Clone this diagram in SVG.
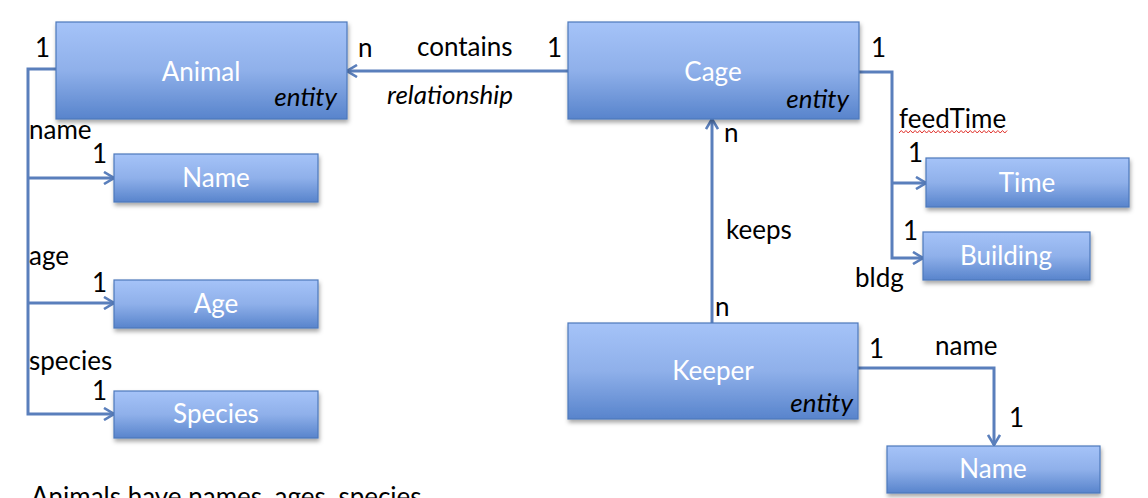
<svg xmlns="http://www.w3.org/2000/svg" width="1148" height="498" viewBox="0 0 1148 498">
<defs>
<linearGradient id="g" x1="0" y1="0" x2="0" y2="1">
<stop offset="0" stop-color="#a5c3f8"/>
<stop offset="0.5" stop-color="#8fb0ea"/>
<stop offset="1" stop-color="#5884cc"/>
</linearGradient>
<filter id="sh" x="-10%" y="-10%" width="120%" height="130%">
<feDropShadow dx="1" dy="3" stdDeviation="2" flood-color="#000" flood-opacity="0.35"/>
</filter>
<marker id="arr" viewBox="0 0 12 14" refX="11" refY="7" markerWidth="12" markerHeight="14" orient="auto" markerUnits="userSpaceOnUse">
<path d="M1,1 L11,7 L1,13" fill="none" stroke="#5a7fbc" stroke-width="2.6"/>
</marker>
</defs>
<style>
.box{fill:url(#g);stroke:#4d79bb;stroke-width:1.2;filter:url(#sh)}
.bt{font-family:Lato,"Open Sans",sans-serif;font-size:26px;fill:#fff;text-anchor:middle}
.et{font-family:Lato,"Open Sans",sans-serif;font-size:26px;font-style:italic;fill:#000;text-anchor:end}
.lb{font-family:Lato,"Open Sans",sans-serif;font-size:26px;fill:#000}
.cn{fill:none;stroke:#5a7fbc;stroke-width:3}
</style>
<rect width="1148" height="498" fill="#fff"/>
<g id="connectors">
<path class="cn" d="M56,69 H28 V414 H114" marker-end="url(#arr)"/>
<path class="cn" d="M28,178 H114" marker-end="url(#arr)"/>
<path class="cn" d="M28,303 H114" marker-end="url(#arr)"/>
<path class="cn" d="M568,71 H347" marker-end="url(#arr)"/>
<path class="cn" d="M859,72 H892 V258 H923" marker-end="url(#arr)"/>
<path class="cn" d="M892,183 H926" marker-end="url(#arr)"/>
<path class="cn" d="M712,323 V119" marker-end="url(#arr)"/>
<path class="cn" d="M858,368 H994 V445" marker-end="url(#arr)"/>
<path d="M899,133 l2.3,-2.5 l2.3,2.5 l2.3,-2.5 l2.3,2.5 l2.3,-2.5 l2.3,2.5 l2.3,-2.5 l2.3,2.5 l2.3,-2.5 l2.3,2.5 l2.3,-2.5 l2.3,2.5 l2.3,-2.5 l2.3,2.5 l2.3,-2.5 l2.3,2.5 l2.3,-2.5 l2.3,2.5 l2.3,-2.5 l2.3,2.5 l2.3,-2.5 l2.3,2.5 l2.3,-2.5 l2.3,2.5 l2.3,-2.5 l2.3,2.5 l2.3,-2.5 l2.3,2.5 l2.3,-2.5 l2.3,2.5 l2.3,-2.5 l2.3,2.5 l2.3,-2.5 l2.3,2.5 l2.3,-2.5 l2.3,2.5 l2.3,-2.5 l2.3,2.5 l2.3,-2.5 l2.3,2.5 l2.3,-2.5 l2.3,2.5 l2.3,-2.5 l2.3,2.5 l2.3,-2.5 l2.3,2.5 l2.3,-2.5" fill="none" stroke="#e0302a" stroke-width="1"/>
</g>
<g id="animal"><rect class="box" x="56" y="22" width="291" height="97"/><text class="bt" x="201" y="81">Animal</text><text class="et" x="337" y="106">entity</text></g>
<g id="cage"><rect class="box" x="568" y="22" width="291" height="97"/><text class="bt" x="713" y="81">Cage</text><text class="et" x="849" y="108">entity</text></g>
<g id="keeper"><rect class="box" x="568" y="323" width="290" height="96"/><text class="bt" x="713" y="380">Keeper</text><text class="et" x="853" y="412">entity</text></g>
<g id="name1"><rect class="box" x="114" y="154" width="204" height="48"/><text class="bt" x="216" y="187">Name</text></g>
<g id="age"><rect class="box" x="114" y="280" width="204" height="48"/><text class="bt" x="216" y="313">Age</text></g>
<g id="species"><rect class="box" x="114" y="391" width="204" height="47"/><text class="bt" x="216" y="423">Species</text></g>
<g id="time"><rect class="box" x="926" y="158" width="203" height="49"/><text class="bt" x="1027" y="192">Time</text></g>
<g id="building"><rect class="box" x="923" y="232" width="167" height="48"/><text class="bt" x="1006" y="265">Building</text></g>
<g id="name2"><rect class="box" x="887" y="446" width="213" height="47"/><text class="bt" x="993" y="478">Name</text></g>
<g id="labels">
<text class="lb" x="35" y="57">1</text>
<text class="lb" x="29" y="139">name</text>
<text class="lb" x="92" y="163">1</text>
<text class="lb" x="29" y="265">age</text>
<text class="lb" x="92" y="292">1</text>
<text class="lb" x="29" y="370">species</text>
<text class="lb" x="92" y="400">1</text>
<text class="lb" x="358" y="57">n</text>
<text class="lb" x="417" y="56">contains</text>
<text class="lb" x="547" y="57">1</text>
<text class="lb" x="387" y="104" font-style="italic">relationship</text>
<text class="lb" x="871" y="57">1</text>
<text class="lb" x="899" y="128">feedTime</text>
<text class="lb" x="908" y="162">1</text>
<text class="lb" x="903" y="240">1</text>
<text class="lb" x="855" y="287">bldg</text>
<text class="lb" x="724" y="142">n</text>
<text class="lb" x="726" y="239">keeps</text>
<text class="lb" x="715" y="316">n</text>
<text class="lb" x="869" y="358">1</text>
<text class="lb" x="935" y="355">name</text>
<text class="lb" x="1009" y="427">1</text>
<text class="lb" x="31" y="506">Animals have names, ages, species</text>
</g>
</svg>
